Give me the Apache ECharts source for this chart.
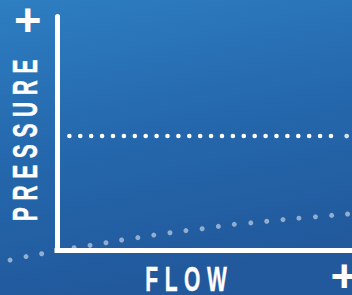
<!DOCTYPE html>
<html><head><meta charset="utf-8">
<script src="https://cdn.jsdelivr.net/npm/echarts@6/dist/echarts.min.js"></script>
<style>
html,body{margin:0;padding:0;background:#2566aa;overflow:hidden;}
#c{width:352px;height:295px;}
#c svg text{letter-spacing:11px;}
</style></head><body><div id="c"></div>
<script>
// axis ranges (arbitrary flow / pressure units)
const flowRange = [0, 100];
const pressureRange = [0, 100];
// horizontal dotted level
const levelPressure = 48.9;
const levelFlow = [4.2, 93.0];
const levelEndFlow = [98.2];
// lighter dotted curve (system curve)
const curveFlow = [-15.9,-10.5,-5.2,5.8,11.2,16.6,21.9,27.4,32.8,38.3,43.7,49.2,54.7,60.1,65.7,71.1,76.6,82.0,87.6,93.1,98.5];
const curvePressure = [-4.1,-2.6,-1.4,1.2,2.2,3.3,4.5,5.5,6.6,7.6,8.5,9.3,10.3,11.2,11.8,12.5,13.2,13.8,14.4,15.0,15.6];
// texts
const xTitle = 'FLOW';
const yTitle = 'PRESSURE';
const plusSign = '+';

const chart = echarts.init(document.getElementById('c'), null, {renderer: 'svg'});
const titleFont = {fill: '#fff', stroke: '#fff', lineWidth: 0.4, fontSize: 35, fontWeight: 'bold', fontFamily: '"Liberation Sans", Arial, sans-serif',
  textAlign: 'center', align: 'center', textVerticalAlign: 'middle', verticalAlign: 'middle'};
const plusFont = {fill: '#fff', fontSize: 47, fontWeight: 'bold', fontFamily: '"Liberation Sans", Arial, sans-serif',
  textAlign: 'center', align: 'center', textVerticalAlign: 'middle', verticalAlign: 'middle'};

chart.setOption({
  animation: false,
  backgroundColor: {type: 'linear', x: 0, y: 0, x2: 0.25, y2: 1, colorStops: [
    {offset: 0, color: '#2e7ec2'}, {offset: 0.5, color: '#2568ad'}, {offset: 1, color: '#21599c'}]},
  grid: {left: 57, right: 0, top: 16.5, bottom: 44.5},
  xAxis: {type: 'value', min: flowRange[0], max: flowRange[1], z: 5,
    axisLine: {show: true, lineStyle: {color: '#fff', width: 5, cap: 'square'}},
    axisTick: {show: false}, axisLabel: {show: false}, splitLine: {show: false}},
  yAxis: {type: 'value', min: pressureRange[0], max: pressureRange[1], z: 5,
    axisLine: {show: true, lineStyle: {color: '#fff', width: 5, cap: 'round'}},
    axisTick: {show: false}, axisLabel: {show: false}, splitLine: {show: false}},
  series: [
    {type: 'line', z: 1, clip: false, silent: true,
      data: curveFlow.map((f, i) => [f, curvePressure[i]]),
      symbol: 'circle', symbolSize: 5, showSymbol: true, showAllSymbol: true,
      lineStyle: {width: 0, opacity: 0},
      itemStyle: {color: 'rgba(255,255,255,0.5)'}},
    {type: 'line', z: 1, clip: false, silent: true,
      data: levelFlow.map(f => [f, levelPressure]),
      showSymbol: false,
      lineStyle: {color: '#fff', width: 4.6, type: [0, 10.9], cap: 'round'}},
    {type: 'scatter', z: 1, clip: false, silent: true,
      data: levelEndFlow.map(f => [f, levelPressure]),
      symbol: 'circle', symbolSize: 4.7, itemStyle: {color: '#fff'}}
  ],
  graphic: [
    {type: 'text', x: 189.3, y: 279.2, scaleX: 0.6, style: Object.assign({text: xTitle}, titleFont)},
    {type: 'text', x: 25, y: 137, rotation: Math.PI / 2, scaleX: 0.6, style: Object.assign({text: yTitle}, titleFont)},
    {type: 'text', x: 33.2, y: 19, style: Object.assign({text: plusSign}, plusFont)},
    {type: 'text', x: 349.8, y: 275, style: Object.assign({text: plusSign}, plusFont)}
  ]
});
</script></body></html>
